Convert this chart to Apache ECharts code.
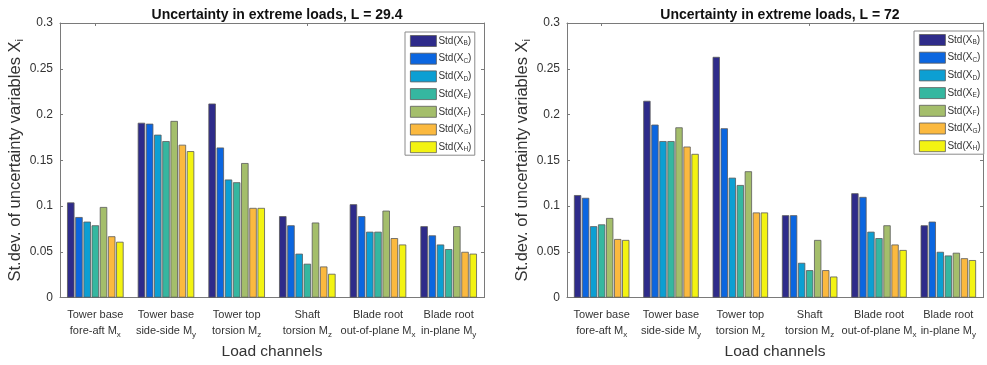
<!DOCTYPE html>
<html>
<head>
<meta charset="utf-8">
<script src="https://cdn.jsdelivr.net/npm/echarts@6/dist/echarts.min.js"></script>
<style>
  html, body { margin: 0; padding: 0; background: #fff; }
  #chart { width: 987px; height: 365px; }
</style>
</head>
<body>
<div id="chart"></div>
<script>
// Load channel tick labels: first line, second line, subscript of the moment
const catLine1 = ['Tower base', 'Tower base', 'Tower top', 'Shaft', 'Blade root', 'Blade root'];
const catLine2 = ['fore-aft M', 'side-side M', 'torsion M', 'torsion M', 'out-of-plane M', 'in-plane M'];
const catSub = ['x', 'y', 'z', 'z', 'x', 'y'];

// Uncertainty variables (series), letters used as subscripts
const varLetters = ['B', 'C', 'D', 'E', 'F', 'G', 'H'];
const varColors = ['#2e2b8a', '#0b66e0', '#0c9fd3', '#35b7a0', '#a4be6b', '#fbb93f', '#f3f312'];

const yTicks = [0, 0.05, 0.1, 0.15, 0.2, 0.25, 0.3];

// Std. dev. per variable for L = 29.4 (one array per variable, over the six load channels)
const left_B = [0.104, 0.191, 0.212, 0.089, 0.102, 0.078];
const left_C = [0.088, 0.190, 0.164, 0.079, 0.089, 0.068];
const left_D = [0.083, 0.178, 0.129, 0.048, 0.072, 0.058];
const left_E = [0.079, 0.171, 0.126, 0.037, 0.072, 0.053];
const left_F = [0.099, 0.193, 0.147, 0.082, 0.095, 0.078];
const left_G = [0.067, 0.167, 0.098, 0.034, 0.065, 0.050];
const left_H = [0.061, 0.160, 0.098, 0.026, 0.058, 0.048];

// Std. dev. per variable for L = 72
const right_B = [0.112, 0.215, 0.263, 0.090, 0.114, 0.079];
const right_C = [0.109, 0.189, 0.185, 0.090, 0.110, 0.083];
const right_D = [0.078, 0.171, 0.131, 0.038, 0.072, 0.050];
const right_E = [0.080, 0.171, 0.123, 0.030, 0.065, 0.046];
const right_F = [0.087, 0.186, 0.138, 0.063, 0.079, 0.049];
const right_G = [0.064, 0.165, 0.093, 0.030, 0.058, 0.043];
const right_H = [0.063, 0.157, 0.093, 0.023, 0.052, 0.041];

const leftData = [left_B, left_C, left_D, left_E, left_F, left_G, left_H];
const rightData = [right_B, right_C, right_D, right_E, right_F, right_G, right_H];

const titles = ['Uncertainty in extreme loads, L = 29.4', 'Uncertainty in extreme loads, L = 72'];

const FONT = '"Liberation Sans", Arial, sans-serif';
const AXIS_COLOR = '#7a7a7a';
const TEXT_COLOR = '#333';

const grids = [
  { left: 60, top: 23, width: 424, height: 280 },
  { left: 567, top: 23, width: 416, height: 280 }
];

const seriesName = l => 'Std(X_' + l + ')';

function catLabel(value, idx) {
  return catLine1[idx] + '\n' + catLine2[idx] + '{s|' + catSub[idx] + '}';
}

const catKeys = catLine1.map((c, i) => c + ' ' + catLine2[i] + catSub[i]);

const xAxes = [];
const yAxes = [];
grids.forEach((g, gi) => {
  // bottom category axis
  xAxes.push({
    type: 'category', gridIndex: gi, data: catKeys,
    position: 'bottom',
    name: 'Load channels', nameLocation: 'middle', nameGap: 43,
    nameTextStyle: { fontFamily: FONT, fontSize: 15.5, color: TEXT_COLOR },
    axisLine: { lineStyle: { color: AXIS_COLOR } },
    axisTick: { show: true, inside: true, length: 3, alignWithLabel: true, lineStyle: { color: AXIS_COLOR } },
    axisLabel: {
      interval: 0, formatter: catLabel, color: TEXT_COLOR, fontFamily: FONT, fontSize: 11, lineHeight: 16, margin: 9,
      rich: { s: { fontSize: 8, fontFamily: FONT, color: TEXT_COLOR, padding: [9, 0, 0, 0] } }
    }
  });
  // top category axis, box edge with ticks only
  xAxes.push({
    type: 'category', gridIndex: gi, data: catKeys,
    position: 'top',
    axisLine: { show: true, onZero: false, lineStyle: { color: AXIS_COLOR } },
    axisTick: { show: true, inside: true, length: 3, alignWithLabel: true, lineStyle: { color: AXIS_COLOR } },
    axisLabel: { show: false }
  });
  // left value axis
  yAxes.push({
    type: 'value', gridIndex: gi, min: yTicks[0], max: yTicks[yTicks.length - 1], interval: 0.05,
    position: 'left',
    name: 'St.dev. of uncertainty variables X{s|i}', nameLocation: 'middle', nameGap: 34,
    nameTextStyle: {
      fontFamily: FONT, fontSize: 16.5, color: TEXT_COLOR,
      rich: { s: { fontSize: 11, fontFamily: FONT, color: TEXT_COLOR, padding: [10, 0, 0, 0] } }
    },
    axisLine: { show: true, lineStyle: { color: AXIS_COLOR } },
    axisTick: { show: true, inside: true, length: 3, lineStyle: { color: AXIS_COLOR } },
    axisLabel: {
      color: TEXT_COLOR, fontFamily: FONT, fontSize: 12, margin: 7,
      formatter: v => String(+v.toFixed(2))
    },
    splitLine: { show: false }
  });
  // right value axis, box edge with ticks only
  yAxes.push({
    type: 'value', gridIndex: gi, min: yTicks[0], max: yTicks[yTicks.length - 1], interval: 0.05,
    position: 'right',
    axisLine: { show: true, onZero: false, lineStyle: { color: AXIS_COLOR } },
    axisTick: { show: true, inside: true, length: 3, lineStyle: { color: AXIS_COLOR } },
    axisLabel: { show: false },
    splitLine: { show: false }
  });
});

const series = [];
[leftData, rightData].forEach((set, gi) => {
  set.forEach((vals, si) => {
    series.push({
      type: 'bar',
      name: seriesName(varLetters[si]),
      xAxisIndex: gi * 2,
      yAxisIndex: gi * 2,
      data: vals,
      barGap: '10%',
      barCategoryGap: '20%',
      itemStyle: { color: varColors[si], borderColor: '#5a5a5a', borderWidth: 0.8 },
      emphasis: { disabled: true },
      animation: false
    });
  });
});

const legendNames = varLetters.map(seriesName);
const legendCommon = {
  orient: 'vertical',
  data: legendNames,
  icon: 'rect',
  backgroundColor: '#fff',
  borderColor: '#8a8a8a',
  borderWidth: 1,
  padding: [3, 3, 2, 5],
  itemWidth: 26,
  itemHeight: 11,
  itemGap: 5.7,
  selectedMode: false,
  itemStyle: { borderWidth: 0.8, borderColor: '#5a5a5a' },
  textStyle: {
    fontFamily: FONT, fontSize: 10, color: TEXT_COLOR, lineHeight: 11, padding: [0, 0, 0, -3],
    rich: { s: { fontSize: 6.5, fontFamily: FONT, color: TEXT_COLOR, lineHeight: 11, padding: [5, 0, 0, 0] } }
  },
  formatter: name => {
    const letter = name.slice(-2, -1);
    return 'Std(X{s|' + letter + '})';
  }
};

const option = {
  animation: false,
  backgroundColor: '#fff',
  title: titles.map((t, gi) => ({
    text: t,
    left: grids[gi].left + grids[gi].width / 2,
    textAlign: 'center',
    top: 3,
    textStyle: { fontFamily: FONT, fontSize: 14, fontWeight: 'bold', color: '#111' }
  })),
  grid: grids,
  legend: [
    Object.assign({}, legendCommon, { left: 405, top: 32 }),
    Object.assign({}, legendCommon, { left: 914, top: 31 })
  ],
  xAxis: xAxes,
  yAxis: yAxes,
  series: series
};

const chart = echarts.init(document.getElementById('chart'), null, { renderer: 'canvas' });
chart.setOption(option);
</script>
</body>
</html>
